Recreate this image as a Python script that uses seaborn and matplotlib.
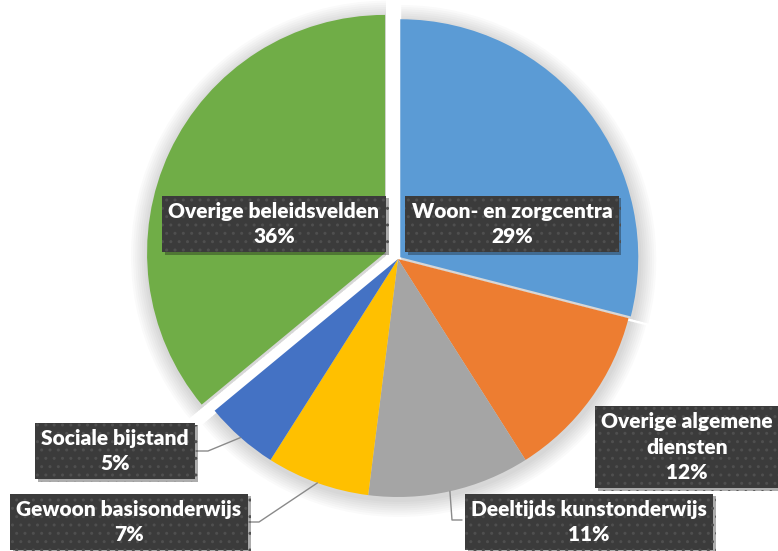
import numpy as np
import matplotlib.pyplot as plt
import matplotlib.patheffects as pe
import seaborn as sns

# data
labels = ["Woon- en zorgcentra", "Overige algemene\ndiensten", "Deeltijds kunstonderwijs",
          "Gewoon basisonderwijs", "Sociale bijstand", "Overige beleidsvelden"]
shares = [29, 12, 11, 7, 5, 36]
colors = ["#5B9BD5", "#ED7D31", "#A5A5A5", "#FFC000", "#4472C4", "#70AD47"]
explode = [0.012, 0, 0, 0, 0, 0.06]

sns.set_theme(style="white")
plt.rcParams['font.family'] = ['Lato', 'DejaVu Sans']

W, H = 778, 551
CX, CY, R = 398, 259, 238   # pie centre / radius in pixels


def px(x, y):
    # pixel position -> data coords (radius 1 pie)
    return (x - CX) / R, (CY - y) / R


fig = plt.figure(figsize=(W / 100, H / 100), dpi=100)
fig.patch.set_facecolor("white")
ax = fig.add_axes([0, 0, 1, 1])

# soft shadow under the slices
for k in range(8, 0, -1):
    ax.pie(shares, radius=1 + k * 0.009, explode=explode, startangle=90, counterclock=False,
           center=(0.004, -0.012), colors=["#000000"] * len(shares),
           wedgeprops=dict(alpha=0.018, linewidth=0))

wedges, _ = ax.pie(shares, explode=explode, startangle=90, counterclock=False,
                   colors=colors, wedgeprops=dict(linewidth=0))

ax.set_aspect("auto")
ax.set_xlim(-CX / R, (W - CX) / R)
ax.set_ylim(-(H - CY) / R, CY / R)
ax.axis("off")

# label box positions (pixels)
label_pos = [(512, 224), (687, 447), (589, 522), (129, 522), (115, 451), (274, 224)]
pcts = [f"{v}%" for v in shares]

for lab, pct, (x, y) in zip(labels, pcts, label_pos):
    t = ax.text(*px(x, y), f"{lab}\n{pct}", ha="center", va="center", color="white",
                fontsize=15, fontweight="heavy", linespacing=1.38, zorder=10,
                bbox=dict(boxstyle="square,pad=0.3", facecolor="#3b3b3b",
                          edgecolor="#4f4f4f", linewidth=0, hatch=".."))
    t.get_bbox_patch().set_path_effects([pe.SimplePatchShadow(offset=(2, -2), alpha=0.35),
                                         pe.Normal()])

# leader lines: from slice edge to the label box
cum = np.cumsum([0] + shares)
mid = {i: np.deg2rad((cum[i] + shares[i] / 2) / 100 * 360) for i in range(len(shares))}


def edge_pt(i):
    return np.sin(mid[i]), np.cos(mid[i])


lc = "#8a8a8a"
# Sociale bijstand
a = edge_pt(4)
e1, e2 = px(208, 451), px(196, 451)
ax.plot([a[0], e1[0], e2[0]], [a[1], e1[1], e2[1]], color=lc, lw=1, zorder=5)
# Gewoon basisonderwijs
a = edge_pt(3)
e1, e2 = px(259, 522), px(249, 522)
ax.plot([a[0], e1[0], e2[0]], [a[1], e1[1], e2[1]], color=lc, lw=1, zorder=5)
# Deeltijds kunstonderwijs
a = edge_pt(2)
e1, e2 = px(452, 520), px(462, 520)
ax.plot([a[0], e1[0], e2[0]], [a[1], e1[1], e2[1]], color=lc, lw=1, zorder=5)

fig.savefig("out.png", dpi=100, facecolor="white")
